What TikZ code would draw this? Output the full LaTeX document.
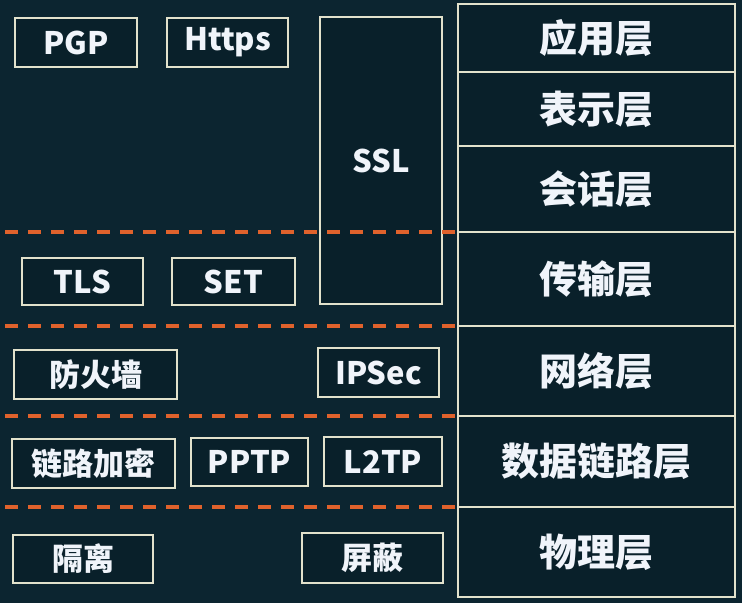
\documentclass[tikz,border=0pt]{standalone}
\usepackage{fontspec}
\setmainfont{Noto Sans CJK SC}
\usetikzlibrary{positioning}
\definecolor{bgcol}{HTML}{0C2530}
\definecolor{boxcol}{HTML}{09202A}
\definecolor{edgecol}{HTML}{E2E2CC}
\definecolor{sepcol}{HTML}{E0622C}
\definecolor{txtcol}{HTML}{F0F4FA}
\tikzset{
  box/.style={draw=edgecol,fill=boxcol,line width=2.6pt,text=txtcol,font=\bfseries\fontsize{31}{31}\selectfont,inner sep=0pt,outer sep=0pt},
  layer/.style={draw=edgecol,fill=boxcol,line width=2.6pt,text=txtcol,font=\bfseries\fontsize{38}{38}\selectfont,minimum width=277pt,inner sep=0pt,outer sep=0pt},
  sep/.style={draw=sepcol,line width=3.8pt,dash pattern=on 13pt off 10pt}
}

\begin{document}
\begin{tikzpicture}[x=1pt,y=-1pt]
\fill[bgcol] (0,0) rectangle (742,603);
\useasboundingbox (0,0) rectangle (742,603);
% protocol boxes
\node[box,minimum width=122pt,minimum height=49pt] (pgp) at (76,42.5) {PGP};
\node[box,minimum width=121pt,minimum height=49pt] (https) at (227.5,42.5) {Https};
\node[box,minimum width=122pt,minimum height=287pt] (ssl) at (381,160.5) {SSL};
\node[box,minimum width=121pt,minimum height=47pt] (tls) at (82.5,281.5) {TLS};
\node[box,minimum width=123pt,minimum height=47pt] (set) at (233.5,281.5) {SET};
\node[box,minimum width=163pt,minimum height=49pt] (fw) at (95.5,374.5) {防火墙};
\node[box,minimum width=121pt,minimum height=49pt] (ipsec) at (378.5,372.5) {IPSec};
\node[box,minimum width=163pt,minimum height=49pt] (linkenc) at (93.5,463.5) {链路加密};
\node[box,minimum width=117pt,minimum height=48pt] (pptp) at (249.5,462) {PPTP};
\node[box,minimum width=118pt,minimum height=49pt] (ltp) at (383,461.5) {L2TP};
\node[box,minimum width=140pt,minimum height=48pt] (iso) at (83,559) {隔离};
\node[box,minimum width=141pt,minimum height=50pt] (shield) at (372.5,558) {屏蔽};
% OSI layers
\node[layer,minimum height=68pt] (app) at (596.5,38) {应用层};
\node[layer,minimum height=74pt] (pres) at (596.5,109) {表示层};
\node[layer,minimum height=86pt] (sess) at (596.5,189) {会话层};
\node[layer,minimum height=94pt] (trans) at (596.5,279) {传输层};
\node[layer,minimum height=90pt] (net) at (596.5,371) {网络层};
\node[layer,minimum height=91pt] (link) at (596.5,461.5) {数据链路层};
\node[layer,minimum height=90pt] (phys) at (596.5,552) {物理层};
% separators
\coordinate (s1) at (5,232);
\coordinate (s2) at (5,326);
\coordinate (s3) at (5,416);
\coordinate (s4) at (5,507);
\draw[sep] (s1) -- (trans.north west);
\draw[sep] (s2) -- (net.north west);
\draw[sep] (s3) -- (link.north west);
\draw[sep] (s4) -- (phys.north west);
\end{tikzpicture}
\end{document}
